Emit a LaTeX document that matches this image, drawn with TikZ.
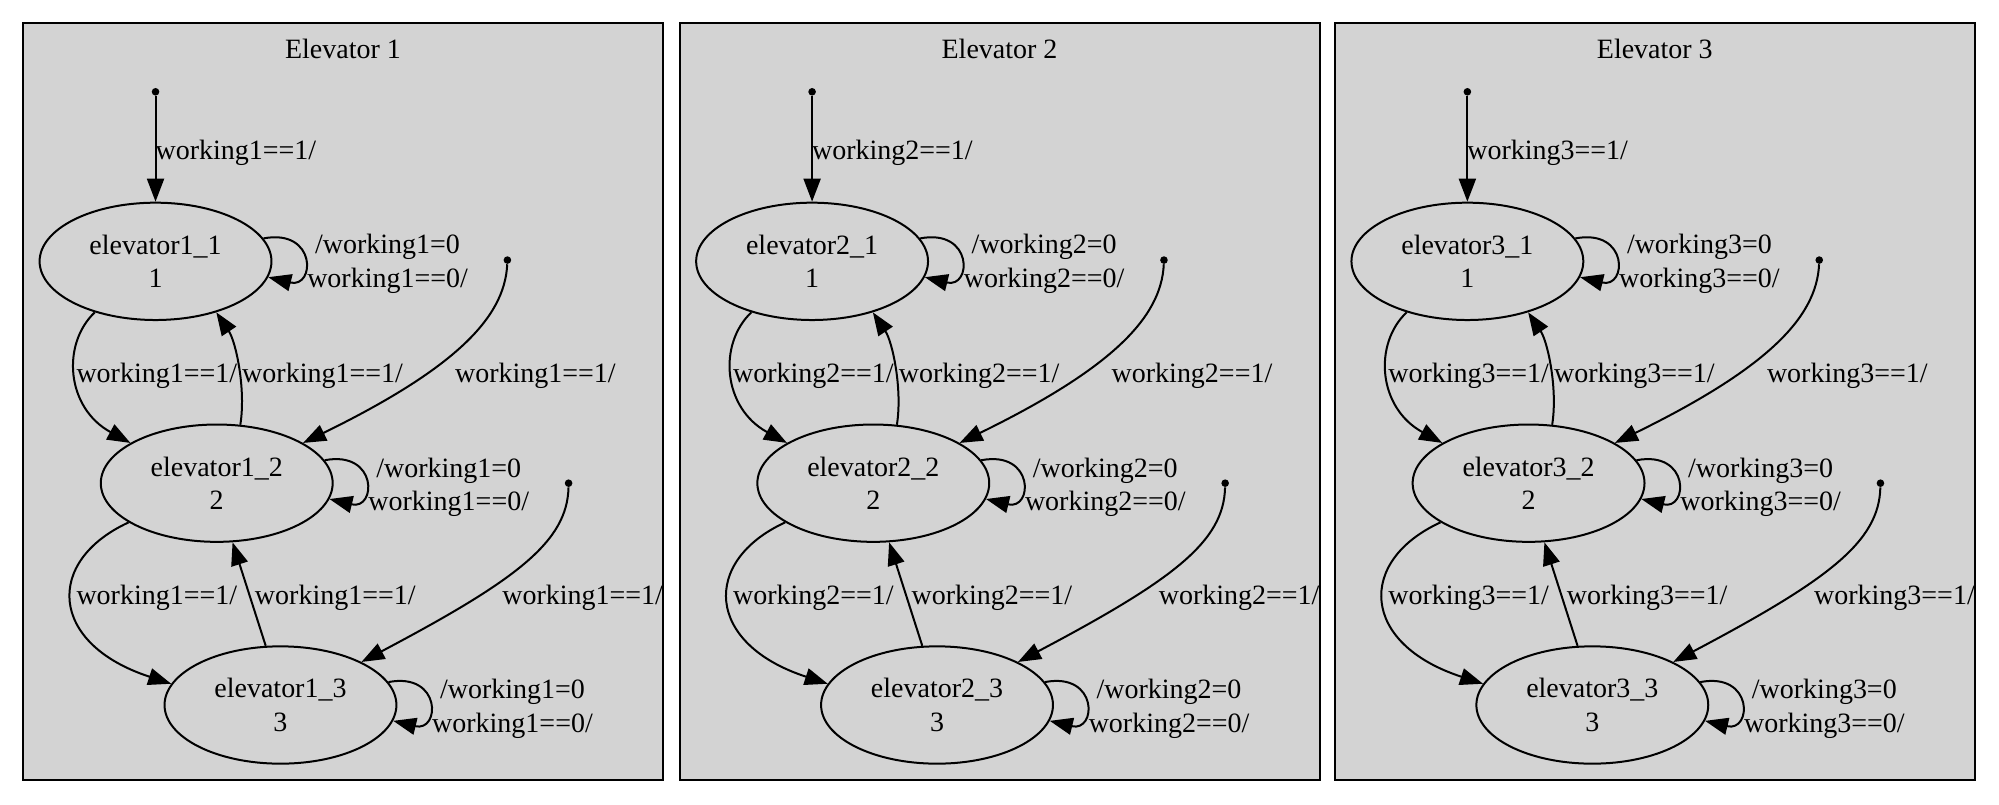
\documentclass[tikz,border=0pt]{standalone}
\usepackage{fontspec}
\setmainfont{Liberation Serif}
\usetikzlibrary{shapes.geometric,arrows.meta}
\definecolor{panelgray}{HTML}{D3D3D3}
\begin{document}
\begin{tikzpicture}[x=0.6378pt,y=-0.6378pt,
  every node/.style={font=\fontsize{14pt}{16.6pt}\selectfont},
  panel/.style={draw=black,fill=panelgray,line width=1pt},
  state/.style={ellipse,draw=black,line width=1pt,minimum width=116pt,minimum height=58.7pt,inner sep=0pt,align=center},
  dotnode/.style={circle,fill=black,inner sep=0pt,minimum size=3.8pt},
  lbl/.style={inner sep=0pt,align=center},
  trans/.style={line width=1pt,-{Triangle[length=11.5pt,width=8.5pt]}}
]
\useasboundingbox (0,0) rectangle (1568,631);
\foreach \i/\dx in {1/0,2/515,3/1029}{
\begin{scope}[shift={(\dx,0)}]
  \path[panel] (18,18) rectangle (520,612);
  \node[lbl] (t\i) at (269,38) {Elevator \i};
  \node[dotnode] (s\i-0) at (122,72) {};
  \node[dotnode] (s\i-2) at (398,204) {};
  \node[dotnode] (s\i-3) at (446,379) {};
  \node[state] (e\i-1) at (122,205) {elevator\i\_1\\1};
  \node[state] (e\i-2) at (170,379) {elevator\i\_2\\2};
  \node[state] (e\i-3) at (220,553) {elevator\i\_3\\3};
  % initial
  \draw[trans] (s\i-0) -- (e\i-1.north);
  \node[lbl] (l\i-0) at (185,120) {working\i==1/};
  % 1 -> 2
  \draw[trans] (e\i-1.220) .. controls (48,270) and (52,320) .. (e\i-2.155);
  \node[lbl] (l\i-12) at (123,295) {working\i==1/};
  % 2 -> 1
  \draw[trans] (e\i-2.68) .. controls (193,305) and (185,268) .. (e\i-1.320);
  \node[lbl] (l\i-21) at (253,295) {working\i==1/};
  % s2 -> 2
  \draw[trans] (s\i-2) .. controls (396,250) and (355,290) .. (e\i-2.25);
  \node[lbl] (l\i-s2) at (420,295) {working\i==1/};
  % 2 -> 3
  \draw[trans] (e\i-2.204) .. controls (35,440) and (38,505) .. (e\i-3.169);
  \node[lbl] (l\i-23) at (123,469) {working\i==1/};
  % 3 -> 2
  \draw[trans] (e\i-3.104) -- (e\i-2.285);
  \node[lbl] (l\i-32) at (263,469) {working\i==1/};
  % s3 -> 3
  \draw[trans] (s\i-3) .. controls (445,425) and (405,455) .. (e\i-3.28);
  \node[lbl] (l\i-s3) at (457,469) {working\i==1/};
  % self loops
  \draw[trans] (e\i-1.12) .. controls +(42,-8) and +(37,9) .. (e\i-1.352);
  \node[lbl] (l\i-11) at (304,207) {/working\i=0\\working\i==0/};
  \draw[trans] (e\i-2.12) .. controls +(42,-8) and +(37,9) .. (e\i-2.352);
  \node[lbl] (l\i-22) at (352,382) {/working\i=0\\working\i==0/};
  \draw[trans] (e\i-3.12) .. controls +(42,-8) and +(37,9) .. (e\i-3.352);
  \node[lbl] (l\i-33) at (402,556) {/working\i=0\\working\i==0/};
\end{scope}
}
\end{tikzpicture}
\end{document}
